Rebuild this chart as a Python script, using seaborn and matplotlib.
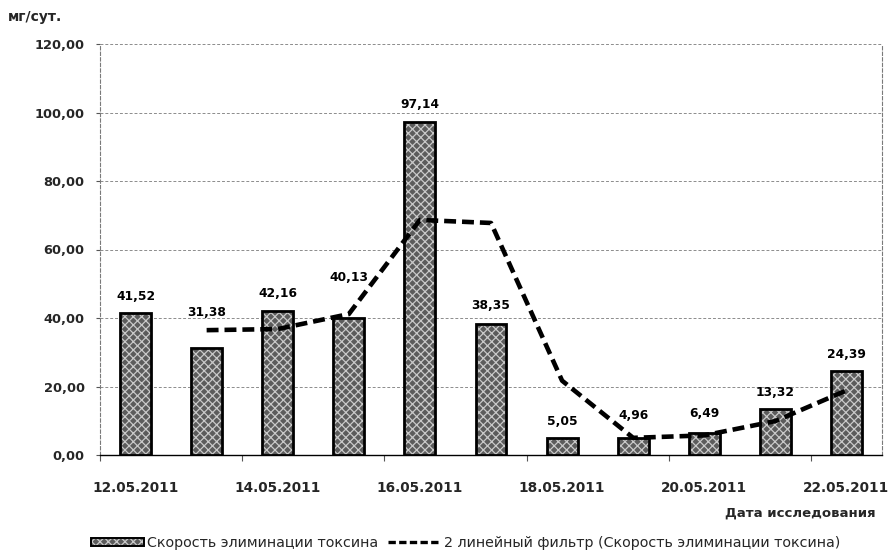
import matplotlib
matplotlib.use("Agg")
import matplotlib.pyplot as plt
from matplotlib.patches import Patch, Rectangle
from matplotlib.lines import Line2D
from matplotlib.legend_handler import HandlerTuple
import numpy as np
import pandas as pd
import seaborn as sns

# --- data -------------------------------------------------------------
dates = ["12.05.2011", "13.05.2011", "14.05.2011", "15.05.2011", "16.05.2011",
         "17.05.2011", "18.05.2011", "19.05.2011", "20.05.2011", "21.05.2011",
         "22.05.2011"]
rate = [41.52, 31.38, 42.16, 40.13, 97.14, 38.35, 5.05, 4.96, 6.49, 13.32, 24.39]
yticks = [0, 20, 40, 60, 80, 100, 120]

bar_label = "Скорость элиминации токсина"
ma_label = "2 линейный фильтр (Скорость элиминации токсина)"
y_title = "мг/сут."
x_title = "Дата исследования"

# value label lift above bar top, in points
label_lift = [12, 25, 12, 29, 13, 13, 12, 16, 14, 12, 12]

# --- style ------------------------------------------------------------
BAR_FACE = "#5c5c5c"
BAR_HATCH = "#c9c9c9"

sns.set_theme(style="white")
plt.rcParams["font.family"] = ["DejaVu Sans"]
plt.rcParams["hatch.linewidth"] = 0.9

df = pd.DataFrame({"pos": np.arange(len(dates)), "date": dates, "rate": rate})
df["ma"] = df["rate"].rolling(2).mean()

fig = plt.figure(figsize=(8.91, 5.55), dpi=100)
ax = fig.add_axes([100 / 891, 1 - 455 / 555, (882 - 100) / 891, (455 - 44) / 555])

# textured bars (hatch takes the edge colour), then a black outline on top
sns.barplot(data=df, x="pos", y="rate", native_scale=True, width=0.435,
            color=BAR_FACE, saturation=1, edgecolor=BAR_HATCH, linewidth=0,
            hatch="xxxx", errorbar=None, ax=ax, zorder=3)
for p in list(ax.patches):
    ax.add_patch(Rectangle(p.get_xy(), p.get_width(), p.get_height(),
                           fill=False, edgecolor="black", linewidth=2.0,
                           zorder=3.5))

ma = df.dropna(subset=["ma"])
sns.lineplot(x=ma["pos"], y=ma["ma"], color="black", linewidth=3.3,
             linestyle=(0, (2.6, 1.3)), ax=ax, zorder=4)

# value labels
for x, v, lift in zip(df["pos"], df["rate"], label_lift):
    ax.annotate(f"{v:.2f}".replace(".", ","), (x, v), xytext=(0, lift),
                textcoords="offset points", ha="center", va="center",
                fontsize=8.8, fontweight="bold", color="black", zorder=5)

# axes
ax.set_xlim(-0.5, len(dates) - 0.5)
ax.set_ylim(0, 120)
ax.set_yticks(yticks)
ax.set_yticklabels([f"{t:.2f}".replace(".", ",") for t in yticks],
                   fontsize=9.4, fontweight="bold")
ax.tick_params(axis="y", which="major", length=3, width=0.8, color="#555555",
               pad=8, left=True)

# ticks between day slots, labels centred on every second day
ax.set_xticks(np.arange(-0.5, len(dates) - 0.5, 2))
ax.set_xticklabels([])
ax.set_xticks(np.arange(0, len(dates), 2), minor=True)
ax.set_xticklabels(dates[::2], minor=True, fontsize=9.8, fontweight="bold")
ax.tick_params(axis="x", which="major", length=4, width=0.8, color="#555555",
               bottom=True, direction="out")
ax.tick_params(axis="x", which="minor", length=0, pad=18.5)

ax.yaxis.grid(True, color="#8c8c8c", linestyle=(0, (3, 2)), linewidth=0.7)
ax.xaxis.grid(False)
ax.set_axisbelow(True)
ax.set_xlabel("")
ax.set_ylabel("")

for side in ["left", "right"]:
    ax.spines[side].set_visible(True)
    ax.spines[side].set_color("#7a7a7a")
    ax.spines[side].set_linestyle((0, (3, 2)))
    ax.spines[side].set_linewidth(0.8)
ax.spines["top"].set_visible(False)
ax.spines["bottom"].set_color("black")
ax.spines["bottom"].set_linewidth(1.0)

fig.text(8 / 891, 1 - 17 / 555, y_title, fontsize=10, fontweight="bold",
         ha="left", va="center")
fig.text(876 / 891, 1 - 513 / 555, x_title, fontsize=9.5, fontweight="bold",
         ha="right", va="center")

bar_handle = (Patch(facecolor=BAR_FACE, edgecolor=BAR_HATCH, hatch="xxxx",
                    linewidth=0),
              Patch(fill=False, edgecolor="black", linewidth=1.4))
line_handle = Line2D([0], [0], color="black", linewidth=2.4,
                     linestyle=(0, (2.2, 1.0)))
fig.legend([bar_handle, line_handle], [bar_label, ma_label], loc="center",
           bbox_to_anchor=(466 / 891, 1 - 543 / 555), ncol=2, frameon=False,
           fontsize=10.3, handlelength=3.7, handleheight=0.55,
           handletextpad=0.2, columnspacing=0.7, borderaxespad=0,
           handler_map={tuple: HandlerTuple(ndivide=1)})

fig.savefig("out.png", dpi=100)
